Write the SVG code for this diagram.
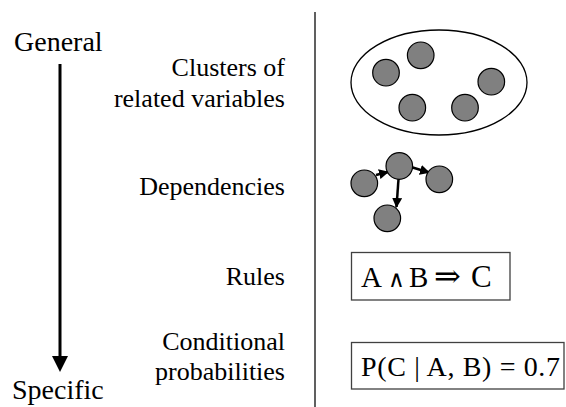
<svg xmlns="http://www.w3.org/2000/svg" width="566" height="407" viewBox="0 0 566 407">
<style>
.t{font-family:'Liberation Serif','Times New Roman','DejaVu Serif',serif}
.lbl{font-size:26px;text-anchor:end}
.end{font-size:28px}
.node{fill:#808080;stroke:#000;stroke-width:1.2}
.box{fill:#fff;stroke:#404040;stroke-width:1.3}
.edge{stroke:#000;stroke-width:2.5;fill:none}
</style>
<defs>
<marker id="ah" markerUnits="userSpaceOnUse" markerWidth="10" markerHeight="10" refX="9" refY="5" orient="auto">
<path d="M0,0 L10,5 L0,10 Z" fill="#000"/>
</marker>
</defs>
<rect width="566" height="407" fill="#fff"/>
<g id="axis">
<text class="t end" x="14" y="51">General</text>
<line x1="60" y1="64" x2="60" y2="358" stroke="#000" stroke-width="3"/>
<polygon points="52,356 68,356 60,372" fill="#000"/>
<text class="t end" x="12" y="399">Specific</text>
</g>
<line id="separator" x1="315" y1="12" x2="315" y2="407" stroke="#606060" stroke-width="2"/>
<g id="labels">
<text class="t lbl" x="285" y="76">Clusters of</text>
<text class="t lbl" x="285" y="107">related variables</text>
<text class="t lbl" x="285" y="195">Dependencies</text>
<text class="t lbl" x="285" y="285">Rules</text>
<text class="t lbl" x="285" y="350">Conditional</text>
<text class="t lbl" x="285" y="380">probabilities</text>
</g>
<g id="cluster">
<ellipse cx="439" cy="82.5" rx="88" ry="52.5" fill="#fff" stroke="#000" stroke-width="1.3"/>
<circle class="node" cx="386" cy="72.7" r="13.3"/>
<circle class="node" cx="420.7" cy="55.3" r="13.3"/>
<circle class="node" cx="491.3" cy="81.7" r="13.3"/>
<circle class="node" cx="412.3" cy="107.7" r="13.3"/>
<circle class="node" cx="465" cy="107.7" r="13.3"/>
</g>
<g id="dep-connectors">
<line class="edge" x1="376" y1="175" x2="388" y2="172" marker-end="url(#ah)"/>
<line class="edge" x1="411" y1="167" x2="429" y2="172.5" marker-end="url(#ah)"/>
<line class="edge" x1="398.5" y1="179" x2="396.5" y2="207" marker-end="url(#ah)"/>
</g>
<g id="dep-nodes">
<circle class="node" cx="399.3" cy="166" r="13.3"/>
<circle class="node" cx="364.3" cy="183.3" r="13.3"/>
<circle class="node" cx="439.3" cy="179.3" r="13.3"/>
<circle class="node" cx="387.3" cy="218.3" r="13.3"/>
</g>
<g id="rule">
<rect class="box" x="351.5" y="252.5" width="158.5" height="47.5"/>
<text class="t" y="287" font-size="29"><tspan x="361">A</tspan><tspan x="388" font-size="23">∧</tspan><tspan x="409">B</tspan><tspan x="434" font-size="32">⇒</tspan><tspan x="471" font-size="31">C</tspan></text>
</g>
<g id="prob">
<rect class="box" x="351.5" y="342.5" width="212.5" height="46.5"/>
<text class="t" x="361" y="376" font-size="28" textLength="199" lengthAdjust="spacing">P(C | A, B) = 0.7</text>
</g>
</svg>
